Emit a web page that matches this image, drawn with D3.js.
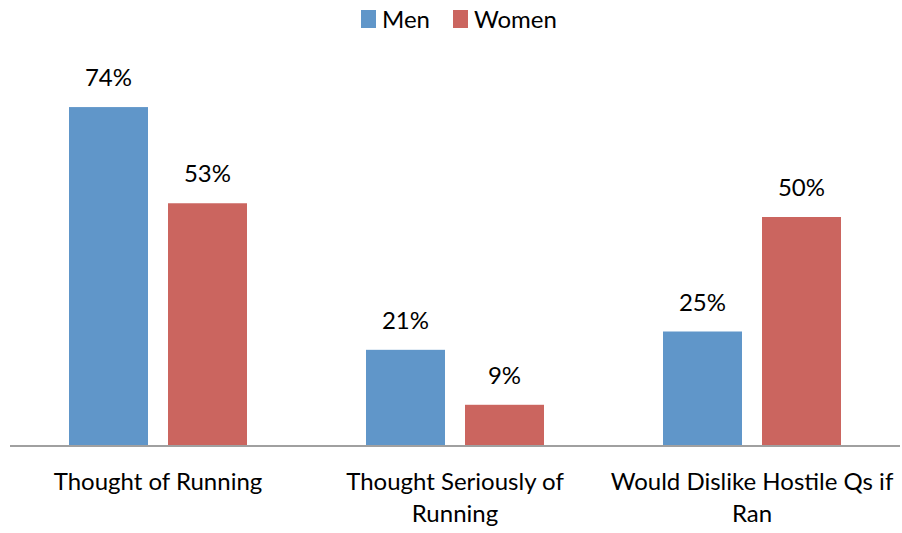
<!DOCTYPE html>
<html><head><meta charset="utf-8">
<script src="https://cdn.jsdelivr.net/npm/d3@7/dist/d3.min.js"></script>
<style>body{margin:0;background:#fff;} svg{display:block;} text{font-family:Lato,"Open Sans",sans-serif;fill:#000;}</style>
</head><body><svg id="c" width="902" height="533"></svg>
<script>
const categories = [["Thought of Running"], ["Thought Seriously of", "Running"], ["Would Dislike Hostile Qs if", "Ran"]];
const seriesNames = ["Men", "Women"];
const men = [74, 21, 25];
const women = [53, 9, 50];
const colors = ["#6096c9", "#cb655f"];

const svg = d3.select("#c");
const left = 9.5, right = 900.5, base = 446;
const fs = "24px";
const x0 = d3.scaleBand().domain(d3.range(categories.length)).range([left, right]);
const bw = x0.bandwidth();
const x1 = d3.scaleBand().domain(seriesNames).range([bw/2 - 89, bw/2 + 89]).paddingInner(20/99);
const y = d3.scaleLinear().domain([0, 100]).range([base, base - 458]);

const data = categories.map((c, i) => ({i, vals: [men[i], women[i]]}));
const g = svg.selectAll("g.cat").data(data).join("g").attr("transform", d => `translate(${x0(d.i)},0)`);
g.selectAll("rect").data(d => d.vals.map((v, k) => ({v, k}))).join("rect")
  .attr("x", d => x1(seriesNames[d.k])).attr("width", x1.bandwidth())
  .attr("y", d => y(d.v)).attr("height", d => base - y(d.v))
  .attr("fill", d => colors[d.k]);
g.selectAll("text.val").data(d => d.vals.map((v, k) => ({v, k}))).join("text").attr("class", "val")
  .attr("x", d => x1(seriesNames[d.k]) + x1.bandwidth()/2).attr("y", d => y(d.v) - 21)
  .attr("text-anchor", "middle").style("font-size", fs).text(d => d.v + "%");

svg.append("line").attr("x1", 10).attr("x2", 900).attr("y1", base).attr("y2", base)
  .attr("stroke", "#a0a0a0").attr("stroke-width", 2);

data.forEach(d => {
  const cx = x0(d.i) + bw/2;
  const t = svg.append("text").attr("text-anchor", "middle").style("font-size", fs).attr("x", cx).attr("y", 490);
  categories[d.i].forEach((line, j) => t.append("tspan").attr("x", cx).attr("dy", j === 0 ? 0 : 32).text(line));
});

const legX = [361, 453];
seriesNames.forEach((s, k) => {
  svg.append("rect").attr("x", legX[k]).attr("y", 10).attr("width", 15).attr("height", 18).attr("fill", colors[k]);
  svg.append("text").attr("x", legX[k] + 21).attr("y", 28).style("font-size", fs).text(s);
});
</script></body></html>
